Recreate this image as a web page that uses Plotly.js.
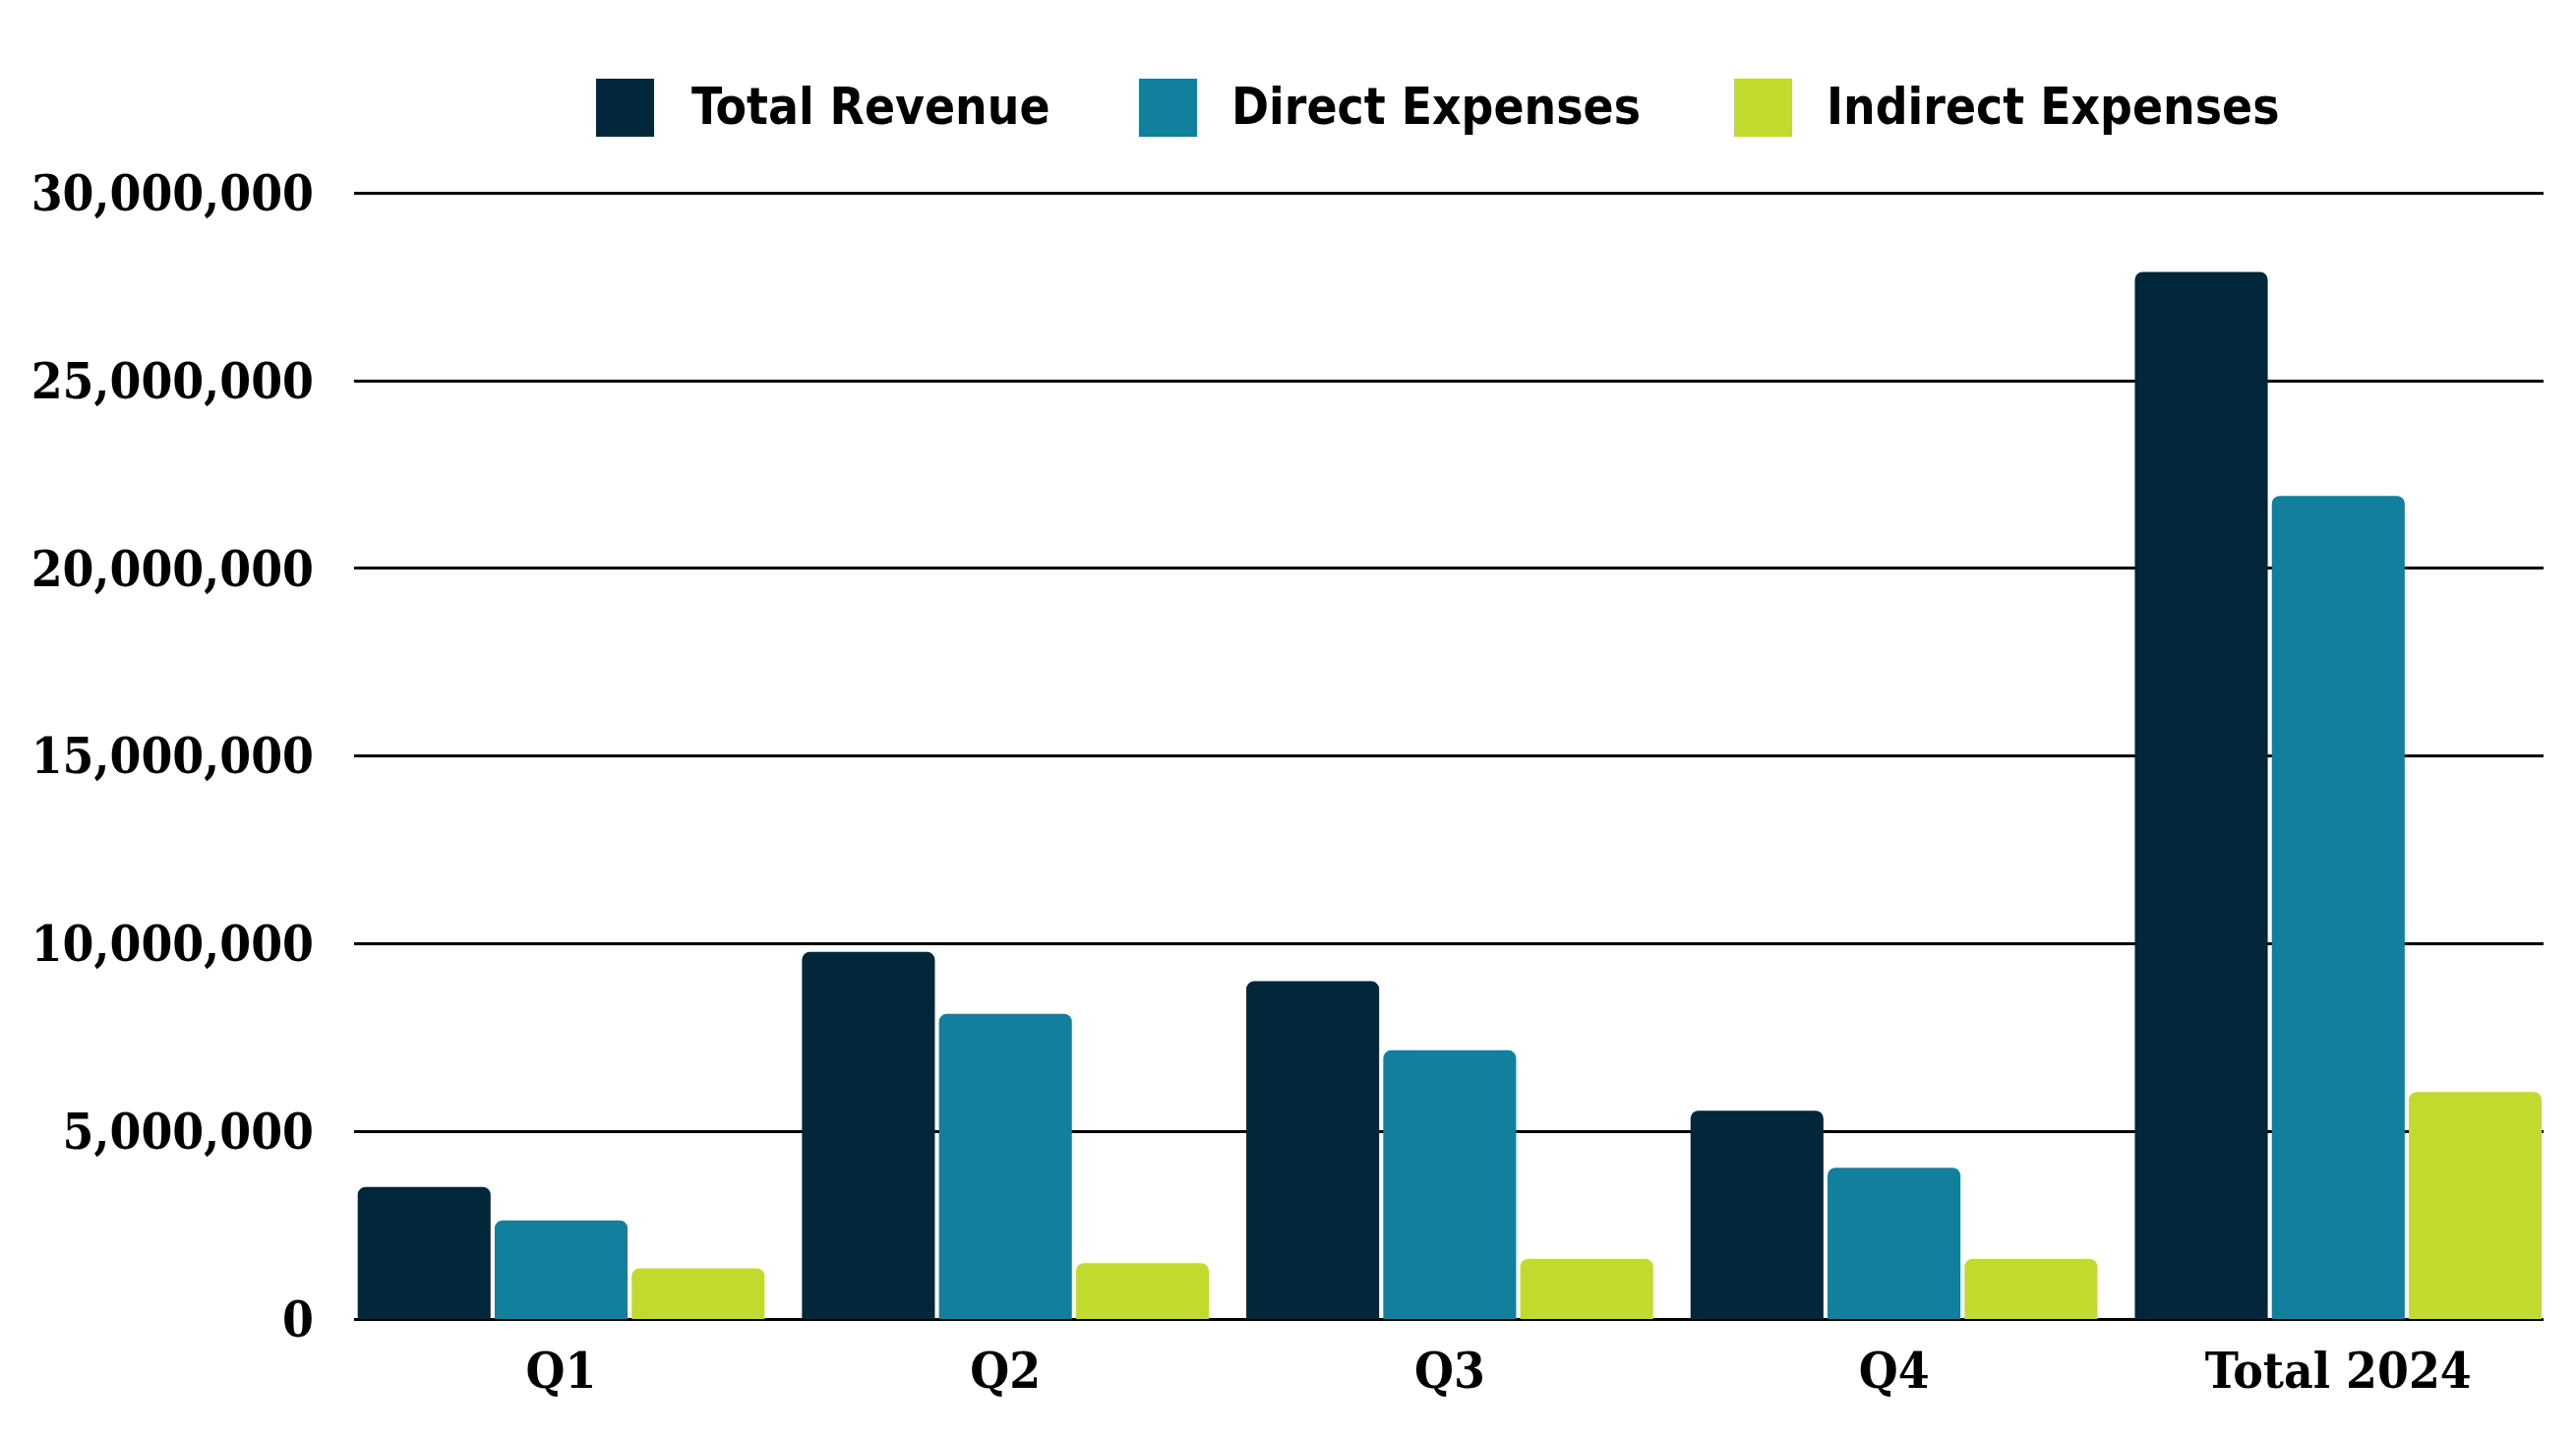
<!DOCTYPE html>
<html>
<head>
<meta charset="utf-8">
<script src="https://cdn.plot.ly/plotly-3.0.1.min.js"></script>
<style>html,body{margin:0;padding:0;background:#fff;}#chart{width:2619px;height:1463px;}</style>
</head>
<body>
<div id="chart"></div>
<script>
const categories = ["Q1", "Q2", "Q3", "Q4", "Total 2024"];
const seriesNames = ["Total Revenue", "Direct Expenses", "Indirect Expenses"];
const totalRevenue = [3520000, 9780000, 9000000, 5550000, 27900000];
const directExpenses = [2630000, 8130000, 7160000, 4030000, 21930000];
const indirectExpenses = [1350000, 1490000, 1600000, 1600000, 6050000];
const yTickVals = [0, 5000000, 10000000, 15000000, 20000000, 25000000, 30000000];
const yTickText = ["0", "5,000,000", "10,000,000", "15,000,000", "20,000,000", "25,000,000", "30,000,000"];
const colors = ["#02263A", "#127F9C", "#C2D92E"];

const W = 2619, H = 1463;
const M = {l: 360, r: 33, t: 194, b: 122};
const plotW = W - M.l - M.r, plotH = H - M.t - M.b;
const px2x = p => (p - M.l) / plotW;
const px2y = p => (H - M.b - p) / plotH;

const serif = "'DejaVu Serif Condensed', 'DejaVu Serif', serif";
const sans = "'DejaVu Sans Condensed', 'DejaVu Sans', sans-serif";

const values = [totalRevenue, directExpenses, indirectExpenses];
const traces = values.map((v, i) => ({
  type: 'bar',
  name: seriesNames[i],
  x: categories,
  y: v,
  marker: {color: colors[i], cornerradius: 8, line: {width: 0}},
  hoverinfo: 'skip',
  showlegend: false
}));

// custom legend (large swatches)
const legendSwatchLeft = [606, 1158, 1763];
const legendTextLeft = [701, 1250, 1855];
const swTop = 80, swBot = 139, legendMid = 108;
const shapes = seriesNames.map((n, i) => ({
  type: 'rect', xref: 'paper', yref: 'paper',
  x0: px2x(legendSwatchLeft[i]), x1: px2x(legendSwatchLeft[i] + 59),
  y0: px2y(swBot), y1: px2y(swTop),
  fillcolor: colors[i], line: {width: 0}
}));
const annotations = seriesNames.map((n, i) => ({
  text: n, xref: 'paper', yref: 'paper',
  x: px2x(legendTextLeft[i]), y: px2y(legendMid),
  xanchor: 'left', yanchor: 'middle', showarrow: false,
  font: {family: sans, size: 51, color: '#000', weight: 'bold'}
}));

const layout = {
  width: W, height: H,
  margin: M,
  paper_bgcolor: '#fff', plot_bgcolor: '#fff',
  barmode: 'group',
  bargap: 0.075,
  bargroupgap: 0.03,
  showlegend: false,
  xaxis: {
    type: 'category',
    range: [-0.466, 4.462],
    showgrid: false, zeroline: false, showline: false,
    ticks: '',
    ticklabelstandoff: 18,
    tickfont: {family: serif, size: 51, color: '#000', weight: 'bold'},
    fixedrange: true
  },
  yaxis: {
    range: [0, 30060000],
    tickvals: yTickVals, ticktext: yTickText,
    showgrid: true, gridcolor: '#000', gridwidth: 3,
    zeroline: true, zerolinecolor: '#000', zerolinewidth: 3,
    showline: false, ticks: '',
    ticklabelstandoff: 40,
    tickfont: {family: serif, size: 51, color: '#000', weight: 'bold'},
    fixedrange: true
  },
  shapes: shapes,
  annotations: annotations
};

Plotly.newPlot('chart', traces, layout, {displayModeBar: false, staticPlot: true});
</script>
</body>
</html>
